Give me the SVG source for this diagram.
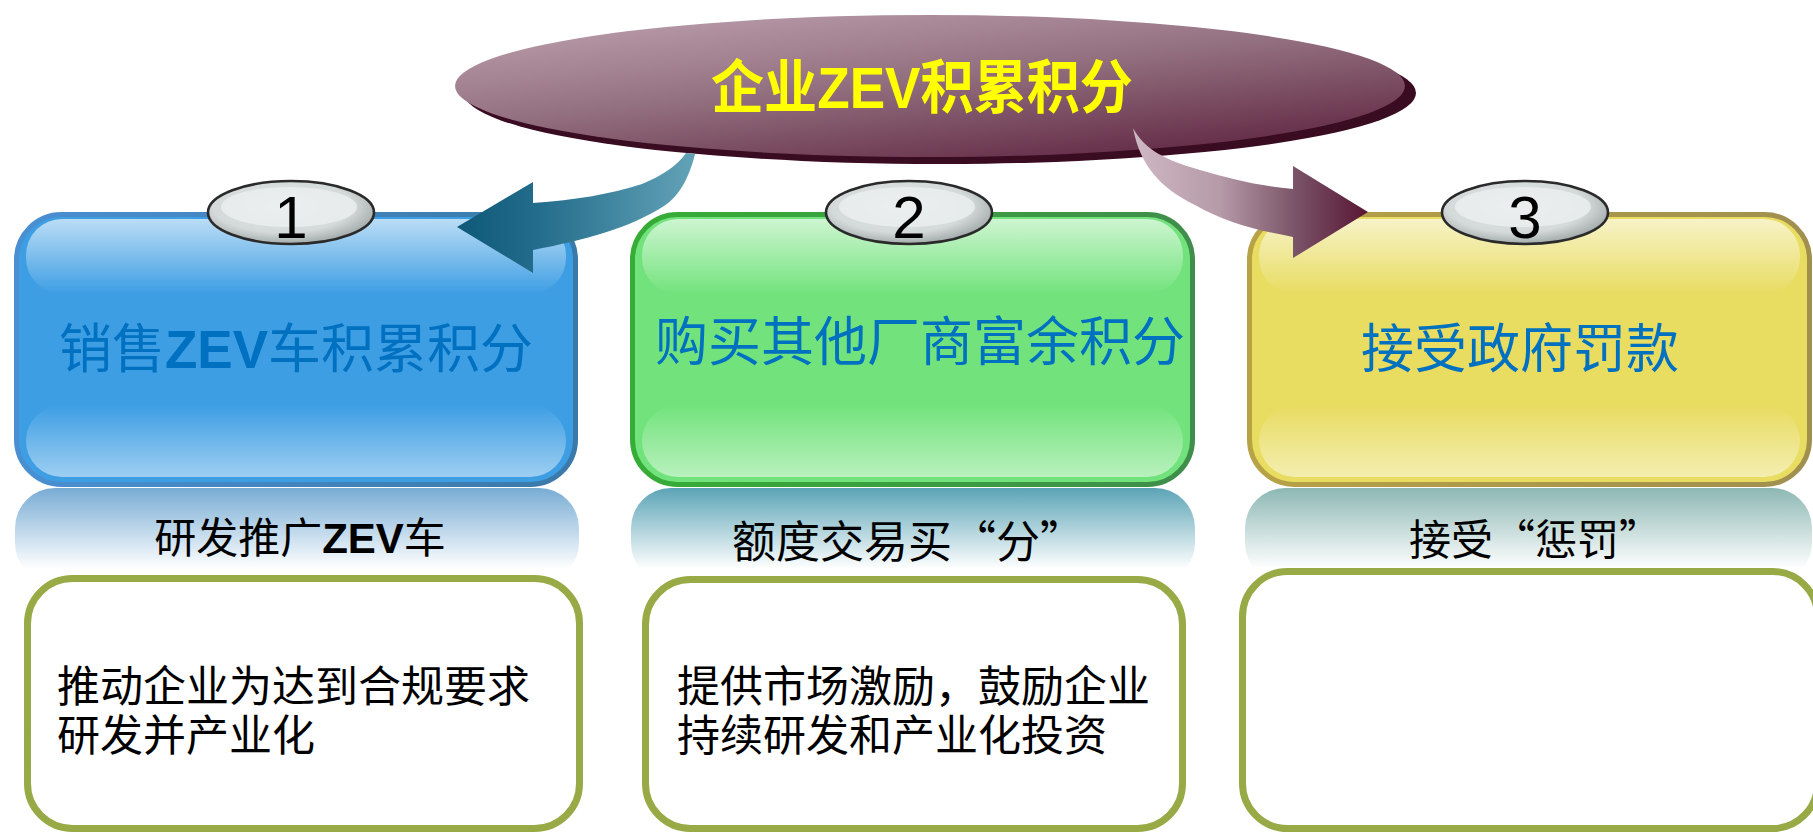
<svg xmlns="http://www.w3.org/2000/svg" width="1813" height="834" viewBox="0 0 1813 834">
<defs>
<style>
.cjk{font-family:"Noto Sans CJK SC","Noto Sans CJK TC",sans-serif;}
.lat{font-family:"Liberation Sans",Arial,sans-serif;font-weight:bold;}
.head{font-size:53px;fill:#0070c0;text-anchor:middle;}
.sub{fill:#000;text-anchor:middle;}
.body{font-size:43px;fill:#000;}
.num{font-family:"Liberation Sans",Arial,sans-serif;font-size:60px;fill:#000;text-anchor:middle;}
.badge{stroke:#2a2a2a;stroke-width:2.6;fill:url(#gBadge);}
.badgeHi{fill:#edf0f0;opacity:0.75;}
.card{fill:#fff;stroke:#98aa45;stroke-width:7;}
.hiTop{fill:url(#gHiTop);}
.hiBot{fill:url(#gHiBot);}
</style>
<linearGradient id="gTitle" x1="0.15" y1="0" x2="0.85" y2="1">
<stop offset="0" stop-color="#bb9dac"/>
<stop offset="0.45" stop-color="#93707f"/>
<stop offset="1" stop-color="#5e2440"/>
</linearGradient>
<radialGradient id="gBadge" cx="0.45" cy="0.4" r="0.6">
<stop offset="0" stop-color="#e4e8e7"/>
<stop offset="0.7" stop-color="#d4dad9"/>
<stop offset="1" stop-color="#a3abab"/>
</radialGradient>
<linearGradient id="gHiTop" x1="0" y1="0" x2="0" y2="1">
<stop offset="0" stop-color="#fff" stop-opacity="0.65"/>
<stop offset="1" stop-color="#fff" stop-opacity="0"/>
</linearGradient>
<linearGradient id="gHiBot" x1="0" y1="0" x2="0" y2="1">
<stop offset="0" stop-color="#fff" stop-opacity="0"/>
<stop offset="1" stop-color="#fff" stop-opacity="0.5"/>
</linearGradient>
<linearGradient id="gStrokeB" x1="0" y1="0" x2="1" y2="0">
<stop offset="0" stop-color="#4a8fd2"/>
<stop offset="1" stop-color="#3a79a8"/>
</linearGradient>
<linearGradient id="gStrokeG" x1="0" y1="0" x2="1" y2="0">
<stop offset="0" stop-color="#36ad36"/>
<stop offset="1" stop-color="#3f8e4b"/>
</linearGradient>
<linearGradient id="gStrokeY" x1="0" y1="0" x2="1" y2="0">
<stop offset="0" stop-color="#b7a246"/>
<stop offset="1" stop-color="#a08f4f"/>
</linearGradient>
<linearGradient id="gStripB" x1="0" y1="0" x2="0" y2="1">
<stop offset="0" stop-color="#78acd4"/>
<stop offset="0.85" stop-color="#fff"/>
</linearGradient>
<linearGradient id="gStripG" x1="0" y1="0" x2="0" y2="1">
<stop offset="0" stop-color="#5ca4b6"/>
<stop offset="0.85" stop-color="#fff"/>
</linearGradient>
<linearGradient id="gStripY" x1="0" y1="0" x2="0" y2="1">
<stop offset="0" stop-color="#8db8b4"/>
<stop offset="0.85" stop-color="#fff"/>
</linearGradient>
<linearGradient id="gArrL" gradientUnits="userSpaceOnUse" x1="457" y1="0" x2="694" y2="0">
<stop offset="0" stop-color="#0e5878"/>
<stop offset="0.35" stop-color="#246d8c"/>
<stop offset="1" stop-color="#63a3b7"/>
</linearGradient>
<linearGradient id="gArrR" gradientUnits="userSpaceOnUse" x1="1140" y1="0" x2="1368" y2="0">
<stop offset="0" stop-color="#ccb6c1"/>
<stop offset="0.35" stop-color="#b69aa8"/>
<stop offset="0.68" stop-color="#7a5468"/>
<stop offset="1" stop-color="#581634"/>
</linearGradient>
</defs>

<rect width="1813" height="834" fill="#fff"/>

<!-- reflection strips -->
<g id="strip1">
<rect x="15" y="488" width="564" height="95" rx="40" fill="url(#gStripB)"/>
<text class="cjk sub" x="300" y="553" font-size="42">研发推广<tspan class="lat">ZEV</tspan>车</text>
</g>
<g id="strip2">
<rect x="631" y="488" width="564" height="95" rx="40" fill="url(#gStripG)"/>
<text class="cjk sub" x="908" y="558" font-size="44">额度交易买“分”</text>
</g>
<g id="strip3">
<rect x="1245" y="488" width="567" height="95" rx="40" fill="url(#gStripY)"/>
<text class="cjk sub" x="1535" y="555" font-size="42">接受“惩罚”</text>
</g>

<!-- box 1 -->
<g id="box1">
<rect x="16.5" y="214.5" width="559" height="270" rx="45" fill="#3d9ee4" stroke="url(#gStrokeB)" stroke-width="5"/>
<rect x="26" y="219" width="540" height="75" rx="36" class="hiTop"/>
<rect x="26" y="405" width="540" height="72" rx="36" class="hiBot"/>
<text class="cjk head" x="296" y="368">销售<tspan class="lat">ZEV</tspan>车积累积分</text>
<ellipse cx="291" cy="212.5" rx="83" ry="31.5" class="badge"/>
<ellipse cx="289" cy="207" rx="68" ry="20" class="badgeHi"/>
<text class="num" x="291" y="238">1</text>
</g>

<!-- box 2 -->
<g id="box2">
<rect x="632.5" y="214.5" width="560" height="270" rx="45" fill="#72e37c" stroke="url(#gStrokeG)" stroke-width="5"/>
<rect x="642" y="219" width="541" height="75" rx="36" class="hiTop"/>
<rect x="642" y="405" width="541" height="72" rx="36" class="hiBot"/>
<text class="cjk head" x="920" y="361">购买其他厂商富余积分</text>
<ellipse cx="909" cy="212.5" rx="83" ry="31.5" class="badge"/>
<ellipse cx="907" cy="207" rx="68" ry="20" class="badgeHi"/>
<text class="num" x="909" y="238">2</text>
</g>

<!-- box 3 -->
<g id="box3">
<rect x="1249.5" y="214.5" width="560" height="270" rx="45" fill="#e8dc61" stroke="url(#gStrokeY)" stroke-width="5"/>
<rect x="1259" y="219" width="541" height="75" rx="36" class="hiTop"/>
<rect x="1259" y="405" width="541" height="72" rx="36" class="hiBot"/>
<text class="cjk head" x="1520" y="368">接受政府罚款</text>
<ellipse cx="1525" cy="212.5" rx="83" ry="31.5" class="badge"/>
<ellipse cx="1523" cy="207" rx="68" ry="20" class="badgeHi"/>
<text class="num" x="1525" y="238">3</text>
</g>

<!-- bottom cards -->
<g id="card1">
<rect x="27.5" y="578.5" width="552" height="250" rx="45" class="card"/>
<text class="cjk body" x="57" y="702">推动企业为达到合规要求</text>
<text class="cjk body" x="57" y="751">研发并产业化</text>
</g>
<g id="card2">
<rect x="645.5" y="579.5" width="537" height="249" rx="45" class="card"/>
<text class="cjk body" x="677" y="702">提供市场激励，鼓励企业</text>
<text class="cjk body" x="677" y="751">持续研发和产业化投资</text>
</g>
<g id="card3">
<rect x="1242.5" y="571.5" width="575" height="257" rx="45" class="card"/>
</g>

<!-- title -->
<g id="title">
<ellipse cx="940" cy="93" rx="476" ry="71" fill="#3a0c22"/>
<ellipse cx="930" cy="86" rx="475" ry="71" fill="url(#gTitle)"/>
<text x="922" y="108" font-size="58" font-weight="bold" fill="#ffff00" text-anchor="middle" class="cjk" textLength="422" lengthAdjust="spacingAndGlyphs">企业<tspan class="lat">ZEV</tspan>积累积分</text>
</g>

<!-- connectors -->
<g id="connectors">
<path d="M457,227 L533,182 L533,203 C575,200 612,194 642,184 C662,176 678,165 686,153 L695,154 C690,175 680,196 664,206 C630,228 585,240 533,250 L533,273 Z" fill="url(#gArrL)"/>
<path d="M1133,128 C1145,150 1165,160 1200,170 C1230,179 1260,186 1293,189 L1293,166 L1368,212 L1293,258 L1293,237 C1255,230 1225,222 1195,205 C1160,188 1140,165 1133,128 Z" fill="url(#gArrR)"/>
</g>
</svg>
